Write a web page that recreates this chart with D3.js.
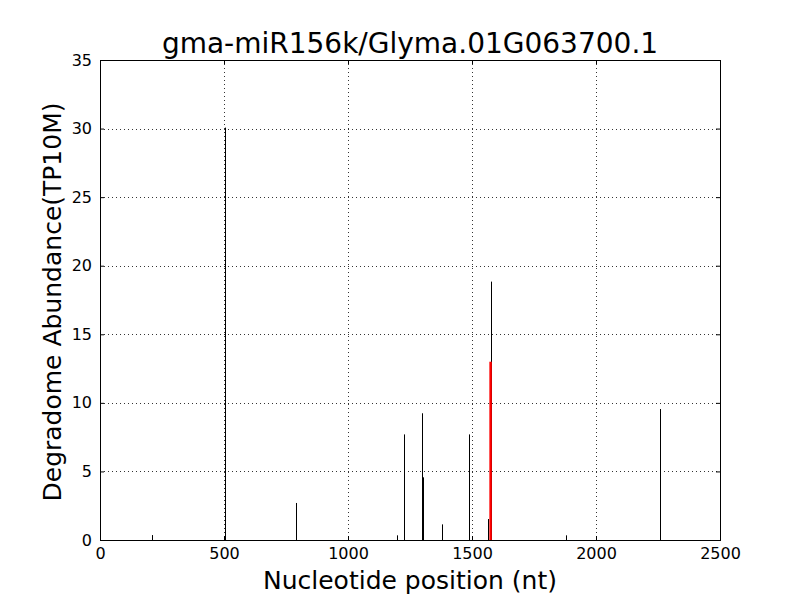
<!DOCTYPE html>
<html>
<head>
<meta charset="utf-8">
<script src="https://cdn.jsdelivr.net/npm/d3@7"></script>
<style>
  body { margin: 0; background: #fff; }
  text { font-family: "DejaVu Sans", sans-serif; fill: #000; }
</style>
</head>
<body>
<div id="graf"></div>
<script>
// Datos
titulo = 'gma-miR156k/Glyma.01G063700.1'
posiciones = [211, 504, 790, 1199, 1227, 1298, 1304, 1380, 1488, 1566, 1578, 1879, 2259]
abundancias = [0.36, 30.07, 2.7, 0.34, 7.7, 9.24, 4.57, 1.14, 7.7, 1.53, 18.84, 0.34, 9.55]
// sitio de corte del miRNA (rojo)
corte_pos = [1575]
corte_abund = [13.0]
ticksX = [0, 500, 1000, 1500, 2000, 2500]
ticksY = [0, 5, 10, 15, 20, 25, 30, 35]

ancho_total = 800
alto_total = 600
margins = {top: 60, left: 100, right: 80, bottom: 60}
ancho = ancho_total - margins.left - margins.right
alto = alto_total - margins.top - margins.bottom

svg = d3.select('#graf').append('svg')
        .attr('width', ancho_total)
        .attr('height', alto_total)

g = svg.append('g')
       .attr('transform', `translate(${margins.left}, ${margins.top})`)

// -- Escaladores --
x = d3.scaleLinear().domain([0, 2500]).range([0, ancho])
y = d3.scaleLinear().domain([0, 35]).range([alto, 0])

// -- Grid punteado --
g.append('g').selectAll('line')
 .data(ticksX.slice(1, -1))
 .join('line')
 .attr('x1', d => Math.round(x(d)) + 0.5).attr('x2', d => Math.round(x(d)) + 0.5)
 .attr('y1', 0).attr('y2', alto)
 .attr('stroke', '#000').attr('stroke-width', 0.8).attr('stroke-dasharray', '1,3')

g.append('g').selectAll('line')
 .data(ticksY.slice(1, -1))
 .join('line')
 .attr('y1', d => Math.round(y(d)) + 0.5).attr('y2', d => Math.round(y(d)) + 0.5)
 .attr('x1', 0).attr('x2', ancho)
 .attr('stroke', '#000').attr('stroke-width', 0.8).attr('stroke-dasharray', '1,3')

// -- Barras (vlines) --
datos = posiciones.map((p, i) => ({pos: p, val: abundancias[i]}))
g.append('g').selectAll('line')
 .data(datos)
 .join('line')
 .attr('x1', d => Math.round(x(d.pos)) + 0.5).attr('x2', d => Math.round(x(d.pos)) + 0.5)
 .attr('y1', y(0)).attr('y2', d => y(d.val))
 .attr('stroke', '#000').attr('stroke-width', 1)

corte = corte_pos.map((p, i) => ({pos: p, val: corte_abund[i]}))
g.append('g').selectAll('line')
 .data(corte)
 .join('line')
 .attr('x1', d => x(d.pos)).attr('x2', d => x(d.pos))
 .attr('y1', y(0)).attr('y2', d => y(d.val))
 .attr('stroke', '#ff0000').attr('stroke-width', 2.5)

// -- Ejes --
fmt = d3.format('d')
xAxGroup = g.append('g').attr('transform', `translate(0, ${alto})`)
xAxGroup.call(d3.axisBottom(x).tickValues(ticksX).tickFormat(fmt).tickSizeInner(-4).tickSizeOuter(0).tickPadding(8))
xTop = g.append('g')
xTop.call(d3.axisTop(x).tickValues(ticksX).tickSizeInner(-4).tickSizeOuter(0).tickFormat(''))
yAxGroup = g.append('g')
yAxGroup.call(d3.axisLeft(y).tickValues(ticksY).tickFormat(fmt).tickSizeInner(-4).tickSizeOuter(0).tickPadding(8))
yRight = g.append('g').attr('transform', `translate(${ancho}, 0)`)
yRight.call(d3.axisRight(y).tickValues(ticksY).tickSizeInner(-4).tickSizeOuter(0).tickFormat(''))

svg.selectAll('.domain').remove()
svg.selectAll('.tick line').attr('stroke', '#000')
svg.selectAll('.tick text')
   .style('font-family', '"DejaVu Sans", sans-serif')
   .style('font-size', '16px')
   .attr('fill', '#000')

// marco
g.append('rect')
 .attr('x', 0.5).attr('y', 0.5)
 .attr('width', ancho).attr('height', alto)
 .attr('fill', 'none').attr('stroke', '#000').attr('stroke-width', 1)

// -- Textos --
svg.append('text')
   .attr('x', margins.left + ancho / 2).attr('y', 53)
   .attr('text-anchor', 'middle')
   .style('font-size', '28px')
   .text(titulo)

svg.append('text')
   .attr('x', margins.left + ancho / 2).attr('y', 589)
   .attr('text-anchor', 'middle')
   .style('font-size', '25px')
   .text('Nucleotide position (nt)')

svg.append('text')
   .attr('transform', `translate(61, ${margins.top + alto / 2 + 2}) rotate(-90)`)
   .attr('text-anchor', 'middle')
   .style('font-size', '25px')
   .text('Degradome Abundance(TP10M)')
</script>
</body>
</html>
